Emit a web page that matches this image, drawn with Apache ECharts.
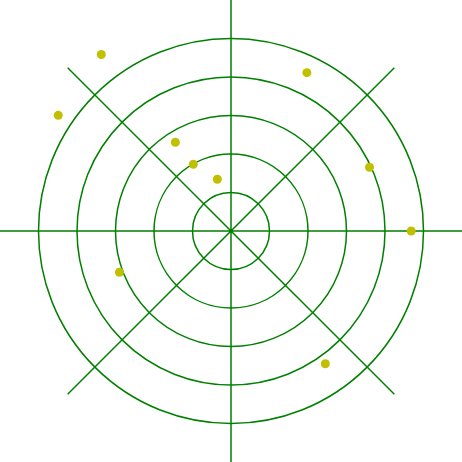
<!DOCTYPE html>
<html><head><meta charset="utf-8">
<script src="https://cdn.jsdelivr.net/npm/echarts@6/dist/echarts.min.js"></script>
<style>html,body{margin:0;padding:0;background:#fff}#c{width:462px;height:462px}</style>
</head><body><div id="c"></div>
<script>
const radii  = [5.69, 5.40, 4.56, 2.72, 1.99, 1.39, 3.96, 4.68, 3.09, 4.23];
const angles = [126.3, 146.2, 64.4, 122.1, 119.5, 104.8, 24.7, 0, 200.3, 305.4];
const data = radii.map((r, i) => [r, angles[i]]);
const chart = echarts.init(document.getElementById('c'), null, {renderer: 'canvas'});
chart.setOption({
  animation: false,
  polar: { center: ['50%', '50%'], radius: 231 },
  angleAxis: {
    type: 'value', min: 0, max: 360, interval: 45, startAngle: 0, clockwise: false,
    axisLine: { show: false }, axisTick: { show: false }, axisLabel: { show: false },
    splitLine: { show: true, lineStyle: { color: '#008000', width: 1.5 } }
  },
  radiusAxis: {
    type: 'value', min: 0, max: 6, interval: 1,
    axisLine: { show: false }, axisTick: { show: false }, axisLabel: { show: false },
    splitLine: { show: true, lineStyle: { color: ['#008000','#008000','#008000','#008000','#008000','#008000','rgba(0,0,0,0)'], width: 1.5 } }
  },
  series: [{
    type: 'scatter', coordinateSystem: 'polar', data: data,
    symbolSize: 9, itemStyle: { color: '#c0c000', opacity: 1 }
  }]
});
</script></body></html>
